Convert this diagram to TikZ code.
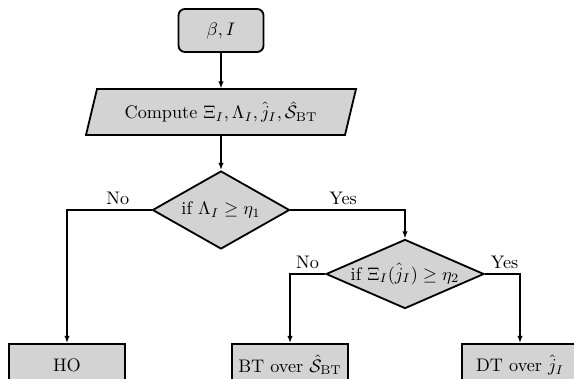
\documentclass[tikz,border=0pt]{standalone}
\usetikzlibrary{shapes.geometric,arrows.meta,backgrounds}
\definecolor{boxgray}{RGB}{211,211,211}
\begin{document}
\begin{tikzpicture}[x=0.55pt,y=-0.55pt,
  shapeline/.style={draw=black,line width=1pt,fill=boxgray},
  startbox/.style={shapeline,rectangle,rounded corners=3.5pt,minimum width=46.75pt,minimum height=23.65pt,inner sep=0pt},
  decision/.style={shapeline,diamond,inner sep=0pt},
  outbox/.style={shapeline,rectangle,minimum width=63.8pt,minimum height=23.1pt,inner sep=0pt},
  conn/.style={line width=0.8pt,-{Latex[length=4pt,width=3pt]}},
  lbl/.style={above,inner sep=2.5pt}
]
\useasboundingbox (0,0) rectangle (574,379);
\node[startbox] (start) at (221,30.5) {$\beta, I$};
\node[minimum width=142.5pt,minimum height=25.3pt,inner sep=0pt] (comp) at (221,112) {Compute $\Xi_I, \Lambda_I, \hat{j}_I, \hat{\mathcal{S}}_{\mathrm{BT}}$};
\begin{scope}[on background layer]
\draw[shapeline] (86,135) -- (345,135) -- (356,89) -- (97,89) -- cycle;
\end{scope}
\node[decision,minimum width=75.4pt,minimum height=42.9pt,aspect=1.756] (d1) at (221,210) {if $\Lambda_I \geq \eta_1$};
\node[decision,minimum width=86.9pt,minimum height=38pt,aspect=2.29] (d2) at (405,274) {if $\Xi_I(\hat{j}_I) \geq \eta_2$};
\node[outbox] (ho) at (67,365) {HO};
\node[outbox] (bt) at (290,365) {BT over $\hat{\mathcal{S}}_{\mathrm{BT}}$};
\node[outbox] (dt) at (520,365) {DT over $\hat{j}_I$};
\draw[conn] (start) -- (comp);
\draw[conn] (comp) -- (d1);
\draw[conn] (d1.west) -| node[lbl,pos=0.2]{No} (ho.north);
\draw[conn] (d1.east) -| node[lbl,pos=0.23]{Yes} (d2.north);
\draw[conn] (d2.west) -| node[lbl,pos=0.25]{No} (bt.north);
\draw[conn] (d2.east) -| node[lbl,pos=0.28]{Yes} (dt.north);
\end{tikzpicture}
\end{document}
